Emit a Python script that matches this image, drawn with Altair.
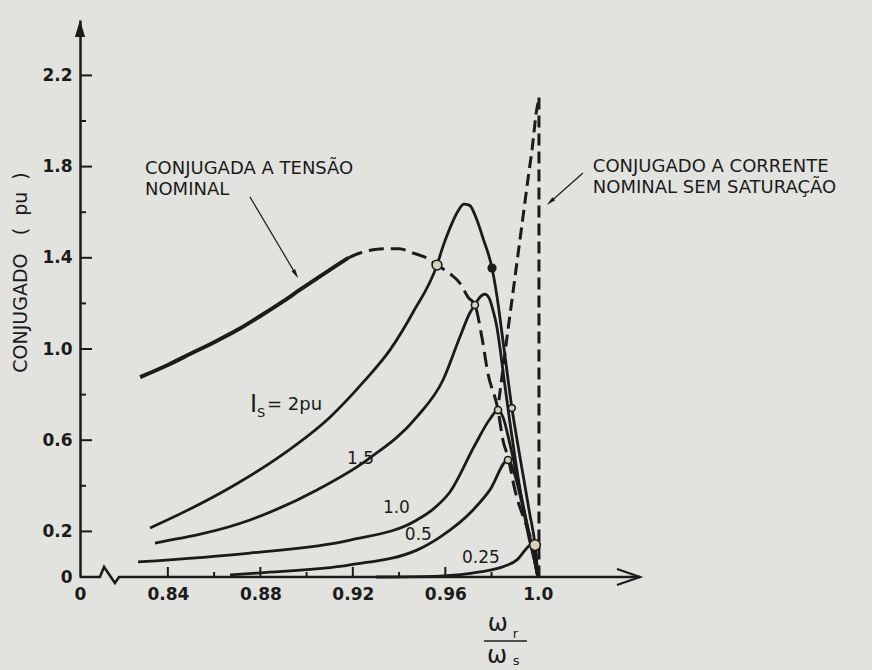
import altair as alt
import pandas as pd

# ---------------------------------------------------------------------------
# Torque (pu) versus speed ratio wr/ws for several stator currents Is
# ---------------------------------------------------------------------------
is2_x = [0.8323, 0.8500, 0.8700, 0.8900, 0.9100, 0.9250, 0.9361, 0.9460, 0.9564, 0.9590,
         0.9620, 0.9655, 0.9680, 0.9705, 0.9735, 0.9765, 0.9802, 0.9825, 0.9845, 0.9866,
         0.9888, 0.9914, 0.9940, 0.9966, 0.9988, 1.0]
is2_y = [0.215, 0.300, 0.410, 0.540, 0.700, 0.860, 0.996, 1.160, 1.368, 1.450,
         1.530, 1.605, 1.635, 1.630, 1.570, 1.480, 1.355, 1.220, 1.070, 0.908,
         0.741, 0.579, 0.425, 0.272, 0.140, 0.0]

is15_x = [0.8344, 0.8755, 0.9045, 0.9261, 0.9477, 0.9590, 0.9663, 0.9706, 0.9728, 0.9750,
          0.9771, 0.9789, 0.9806, 0.9823, 0.9836, 0.9855, 0.9879, 0.9905, 0.9932, 0.9960,
          0.9986, 1.0]
is15_y = [0.149, 0.250, 0.382, 0.513, 0.702, 0.864, 1.053, 1.158, 1.193, 1.228,
          1.241, 1.224, 1.171, 1.097, 1.009, 0.860, 0.680, 0.500, 0.330, 0.180,
          0.070, 0.0]

is10_x = [0.8271, 0.8755, 0.9188, 0.9477, 0.9550, 0.9620, 0.9728, 0.9793, 0.9828, 0.9850,
          0.9880, 0.9915, 0.9950, 0.9980, 1.0]
is10_y = [0.066, 0.105, 0.162, 0.250, 0.300, 0.373, 0.579, 0.693, 0.732, 0.700,
          0.580, 0.420, 0.250, 0.100, 0.0]

is05_x = [0.8669, 0.8798, 0.9188, 0.9477, 0.9577, 0.9720, 0.9793, 0.9871, 0.9900, 0.9930,
          0.9960, 0.9985, 1.0]
is05_y = [0.009, 0.018, 0.053, 0.118, 0.175, 0.294, 0.382, 0.513, 0.450, 0.330,
          0.200, 0.080, 0.0]

is025_x = [0.9300, 0.9577, 0.9750, 0.9858, 0.9910, 0.9953, 0.9979, 0.9992, 1.0]
is025_y = [0.0, 0.004, 0.022, 0.048, 0.075, 0.127, 0.150, 0.100, 0.0]

# torque at rated voltage: solid up to the knee, dashed beyond it
vs_x = [0.828, 0.840, 0.850, 0.860, 0.870, 0.880, 0.890, 0.897, 0.905, 0.912, 0.918]
vs_y = [0.877, 0.930, 0.980, 1.030, 1.083, 1.145, 1.210, 1.259, 1.313, 1.360, 1.400]
vd_x = [0.918, 0.9231, 0.9317, 0.9400, 0.9460, 0.9520, 0.9564, 0.9620, 0.9663, 0.9698,
        0.9728, 0.9758, 0.9784, 0.9828, 0.9849, 0.9871, 0.9901, 0.9953, 0.9988]
vd_y = [1.400, 1.421, 1.439, 1.440, 1.421, 1.399, 1.368, 1.330, 1.289, 1.228,
        1.193, 1.053, 0.895, 0.732, 0.601, 0.526, 0.382, 0.219, 0.118]

# torque at rated current without saturation
ic_x = [0.9832, 0.9867, 0.9915, 0.9957, 0.9975, 0.9992, 1.0005, 1.0005]
ic_y = [0.776, 1.053, 1.420, 1.741, 1.873, 2.030, 2.105, 0.0]

# operating points marked on the curves
ring_x = [0.9564, 0.9728, 0.9828, 0.9888, 0.9871, 0.9988]
ring_y = [1.368, 1.193, 0.732, 0.741, 0.513, 0.140]
ring_s = [95, 50, 50, 45, 50, 115]
dot_x = [0.9802]
dot_y = [1.355]

# axis ticks and labels
X0, X1 = 0.802, 1.0442
Y1 = 2.443
x_labels = [X0, 0.84, 0.88, 0.92, 0.96, 1.0]
x_major = [0.84, 0.88, 0.92, 0.96, 1.0]
x_minor = [0.86, 0.90, 0.94, 0.98]
y_labels = [0.0, 0.2, 0.6, 1.0, 1.4, 1.8, 2.2]
y_major = [0.2, 0.6, 1.0, 1.4, 1.8, 2.2]
y_minor = [0.4, 0.8, 1.2, 1.6, 2.0]

# horizontal axis line with its scale break near the origin
brk_x = [X0, 0.8106, 0.8124, 0.8171, 0.8189, X1]
brk_y = [0.0, 0.0, 0.044, -0.026, 0.0, 0.0]

INK = "#1b1b1b"
FONT = "DejaVu Sans"
W, H = 560, 557
NB = "\u00a0"

xs = alt.Scale(domain=[X0, X1], nice=False, zero=False)
ys = alt.Scale(domain=[0, Y1], nice=False, zero=False)
x_axis = alt.Axis(values=x_labels, title=None, domain=False, ticks=False, grid=False,
                  labelExpr="datum.value < 0.81 ? '0' : (datum.value > 0.999 ? '1.0' : format(datum.value, '.2f'))",
                  labelFont=FONT, labelFontSize=17, labelFontWeight="bold", labelColor=INK,
                  labelPadding=9, labelFlush=False, labelOverlap=False)
y_axis = alt.Axis(values=y_labels, domain=True, domainColor=INK, domainWidth=2.5,
                  ticks=False, grid=False,
                  labelExpr="datum.value == 0 ? '0' : format(datum.value, '.1f')",
                  labelFont=FONT, labelFontSize=17, labelFontWeight="bold", labelColor=INK,
                  labelPadding=8, labelOverlap=False,
                  title="CONJUGADO" + NB * 3 + "(" + NB * 2 + "pu" + NB * 2 + ")",
                  titleFont=FONT, titleFontSize=19,
                  titleFontWeight="normal", titleColor=INK, titleAngle=270,
                  titleX=-60, titleY=252, titleAlign="center", titleBaseline="middle")


def X(f="x"):
    return alt.X(f, type="quantitative", scale=xs, axis=x_axis)


def Y(f="y"):
    return alt.Y(f, type="quantitative", scale=ys, axis=y_axis)


def series(xv, yv, name):
    return pd.DataFrame({"x": xv, "y": yv, "i": range(len(xv)), "s": name})


curves = pd.concat([
    series(is2_x, is2_y, "2"),
    series(is15_x, is15_y, "1.5"),
    series(is10_x, is10_y, "1.0"),
    series(is05_x, is05_y, "0.5"),
    series(is025_x, is025_y, "0.25"),
])

axis_line = alt.Chart(series(brk_x, brk_y, "axis")).mark_line(color=INK, strokeWidth=2.5).encode(
    x=X(), y=Y(), order="i:Q")

y_head = alt.Chart(pd.DataFrame({"x": [X0], "y": [Y1 - 8.5 / 228]})).mark_point(
    shape="M0,-1L0.6,1L-0.6,1Z", size=289, filled=True, color=INK, opacity=1).encode(x=X(), y=Y())
x_head = alt.Chart(pd.DataFrame({"x": [X1 - 11.5 / 2312.5], "y": [0.0]})).mark_point(
    shape="M-1,-0.7L1,0L-1,0.7", size=529, filled=False, color=INK, strokeWidth=2.2,
    opacity=1).encode(x=X(), y=Y())

ytick_major = alt.Chart(pd.DataFrame({"y": y_major})).mark_rule(color=INK, strokeWidth=2).encode(
    y=Y(), x=alt.value(0), x2=alt.value(12))
ytick_minor = alt.Chart(pd.DataFrame({"y": y_minor})).mark_rule(color=INK, strokeWidth=2).encode(
    y=Y(), x=alt.value(0), x2=alt.value(6))
xtick_major = alt.Chart(pd.DataFrame({"x": x_major})).mark_rule(color=INK, strokeWidth=2).encode(
    x=X(), y=alt.value(H), y2=alt.value(H - 10))
xtick_minor = alt.Chart(pd.DataFrame({"x": x_minor})).mark_rule(color=INK, strokeWidth=2).encode(
    x=X(), y=alt.value(H), y2=alt.value(H - 5))

is_lines = alt.Chart(curves).mark_line(color=INK, strokeWidth=2.8, interpolate="monotone").encode(
    x=X(), y=Y(), detail="s:N", order="i:Q")
v_solid = alt.Chart(series(vs_x, vs_y, "v")).mark_line(
    color=INK, strokeWidth=4, interpolate="monotone").encode(x=X(), y=Y(), order="i:Q")
v_dash = alt.Chart(series(vd_x, vd_y, "v")).mark_line(
    color=INK, strokeWidth=3, strokeDash=[15, 7], interpolate="monotone").encode(
    x=X(), y=Y(), order="i:Q")
i_dash = alt.Chart(series(ic_x, ic_y, "c")).mark_line(
    color=INK, strokeWidth=3, strokeDash=[12, 6]).encode(x=X(), y=Y(), order="i:Q")

rings = alt.Chart(pd.DataFrame({"x": ring_x, "y": ring_y, "sz": ring_s})).mark_point(
    shape="circle", filled=True, fill="#d6d1b8", stroke=INK, strokeWidth=1.6, opacity=1).encode(
    x=X(), y=Y(), size=alt.Size("sz:Q", scale=None, legend=None))
dots = alt.Chart(pd.DataFrame({"x": dot_x, "y": dot_y})).mark_point(
    shape="circle", filled=True, color=INK, size=85, opacity=1).encode(x=X(), y=Y())

# leader lines for the two curve notes
lead_l = series([0.8755, 0.8953], [1.667, 1.3285], "l")
lead_r = series([1.0195, 1.0054], [1.772, 1.645], "r")
leaders = alt.Chart(pd.concat([lead_l, lead_r])).mark_line(color=INK, strokeWidth=1.2).encode(
    x=X(), y=Y(), detail="s:N", order="i:Q")
heads = alt.Chart(pd.DataFrame({"x": [0.8953, 1.0054], "y": [1.3285, 1.645], "a": [149, 228]})).mark_point(
    shape="M0,-1L0.45,1L-0.45,1Z", size=90, filled=True, color=INK, opacity=1).encode(
    x=X(), y=Y(), angle=alt.Angle("a:Q", scale=None))

# two-line curve notes
blocks = pd.DataFrame({
    "x": [0.8301, 1.0238],
    "y": [1.768, 1.776],
    "t": ["CONJUGADA A TENSÃO\nNOMINAL", "CONJUGADO A CORRENTE\nNOMINAL SEM SATURAÇÃO"],
})
block_text = alt.Chart(blocks).mark_text(
    align="left", baseline="alphabetic", font=FONT, fontSize=18, color=INK,
    lineBreak="\n", lineHeight=21).encode(x=X(), y=Y(), text="t:N")

notes = pd.DataFrame({
    "x": [0.9175, 0.9330, 0.9425, 0.9672, 0.8755, 0.8785, 0.8829,
          0.9784, 0.9892, 0.9780, 0.9892],
    "y": [0.496, 0.281, 0.162, 0.061, 0.724, 0.700, 0.732,
          -0.237, -0.268, -0.378, -0.388],
    "t": ["1.5", "1.0", "0.5", "0.25", "I", "S", "= 2pu", "ω", "r", "ω", "s"],
    "fs": [17, 17, 17, 17, 24, 13, 18, 24, 13, 24, 13],
})
note_text = alt.Chart(notes).mark_text(align="left", baseline="alphabetic", font=FONT, color=INK).encode(
    x=X(), y=Y(), text="t:N", size=alt.Size("fs:Q", scale=None, legend=None))

frac = alt.Chart(pd.DataFrame({"x": [0.9767], "x2": [0.9953], "y": [-0.281]})).mark_rule(
    color=INK, strokeWidth=1.6).encode(x=X(), x2="x2:Q", y=Y())

chart = alt.layer(
    axis_line, y_head, x_head, ytick_major, ytick_minor, xtick_major, xtick_minor,
    is_lines, v_solid, v_dash, i_dash, rings, dots, leaders, heads, block_text, note_text, frac,
).properties(
    width=W, height=H,
    padding={"left": 80, "top": 20, "right": 232, "bottom": 93},
    autosize=alt.AutoSizeParams(type="none"),
    background="#e2e3de",
).configure_view(stroke=None)

chart.save("out.html", embed_options={"renderer": "svg", "actions": False})
